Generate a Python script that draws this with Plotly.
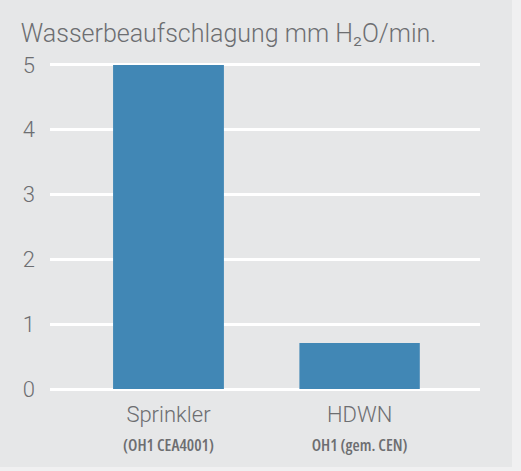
import plotly.graph_objects as go

categories = ["Sprinkler", "HDWN"]
subtitles = ["(OH1 CEA4001)", "OH1 (gem. CEN)"]
values = [5.0, 0.71]
bar_widths = [0.58, 0.63]
y_ticks = [0, 1, 2, 3, 4, 5]

TEXT = "#6d6e71"
BG = "#e6e7e8"
EDGE = "#f0f0f1"
BAR = "#4187b5"

ticktext = [
    f"{c}<br><span style='font-size:16.5px;font-family:Open Sans;font-stretch:75%;font-weight:600'>{s}</span>"
    for c, s in zip(categories, subtitles)
]

fig = go.Figure(
    go.Bar(
        x=categories,
        y=values,
        width=bar_widths,
        marker=dict(color=BAR, line=dict(width=0)),
        hoverinfo="skip",
    )
)

fig.update_layout(
    width=521,
    height=471,
    margin=dict(l=50, r=41, t=63, b=80),
    paper_bgcolor=BG,
    plot_bgcolor=BG,
    showlegend=False,
    font=dict(family="Roboto Light, Roboto", size=22, color=TEXT, weight=300),
    title=dict(
        text="Wasserbeaufschlagung mm H₂O/min.",
        x=0.04, xref="container", xanchor="left",
        y=0.93, yref="container", yanchor="middle",
        font=dict(family="Roboto Light, Roboto", size=25, color=TEXT, weight=300),
    ),
    xaxis=dict(
        range=[-0.62, 1.63],
        tickmode="array",
        tickvals=categories,
        ticktext=ticktext,
        showgrid=False,
        zeroline=False,
        showline=False,
        ticks="",
        ticklabelstandoff=8,
        tickfont=dict(family="Roboto Light, Roboto", size=22, color=TEXT, weight=300),
    ),
    yaxis=dict(
        range=[-0.03, 5.03],
        tickvals=y_ticks,
        showgrid=True,
        gridcolor="#ffffff",
        gridwidth=3,
        zeroline=False,
        showline=False,
        ticks="",
        ticklabelstandoff=14,
        tickfont=dict(family="Roboto Light, Roboto", size=22, color=TEXT, weight=300),
    ),
    shapes=[
        dict(type="rect", xref="paper", yref="paper", x0=1.0744, x1=1.2, y0=-0.4, y1=1.3,
             fillcolor=EDGE, line=dict(width=0), layer="below"),
        dict(type="rect", xref="paper", yref="paper", x0=-0.2, x1=1.2, y0=-0.4, y1=-0.2317,
             fillcolor=EDGE, line=dict(width=0), layer="below"),
    ],
)

fig.write_html(
    "out.html",
    config={"displayModeBar": False},
    post_script="document.body.style.margin='0';document.body.style.background='%s';" % EDGE,
)
